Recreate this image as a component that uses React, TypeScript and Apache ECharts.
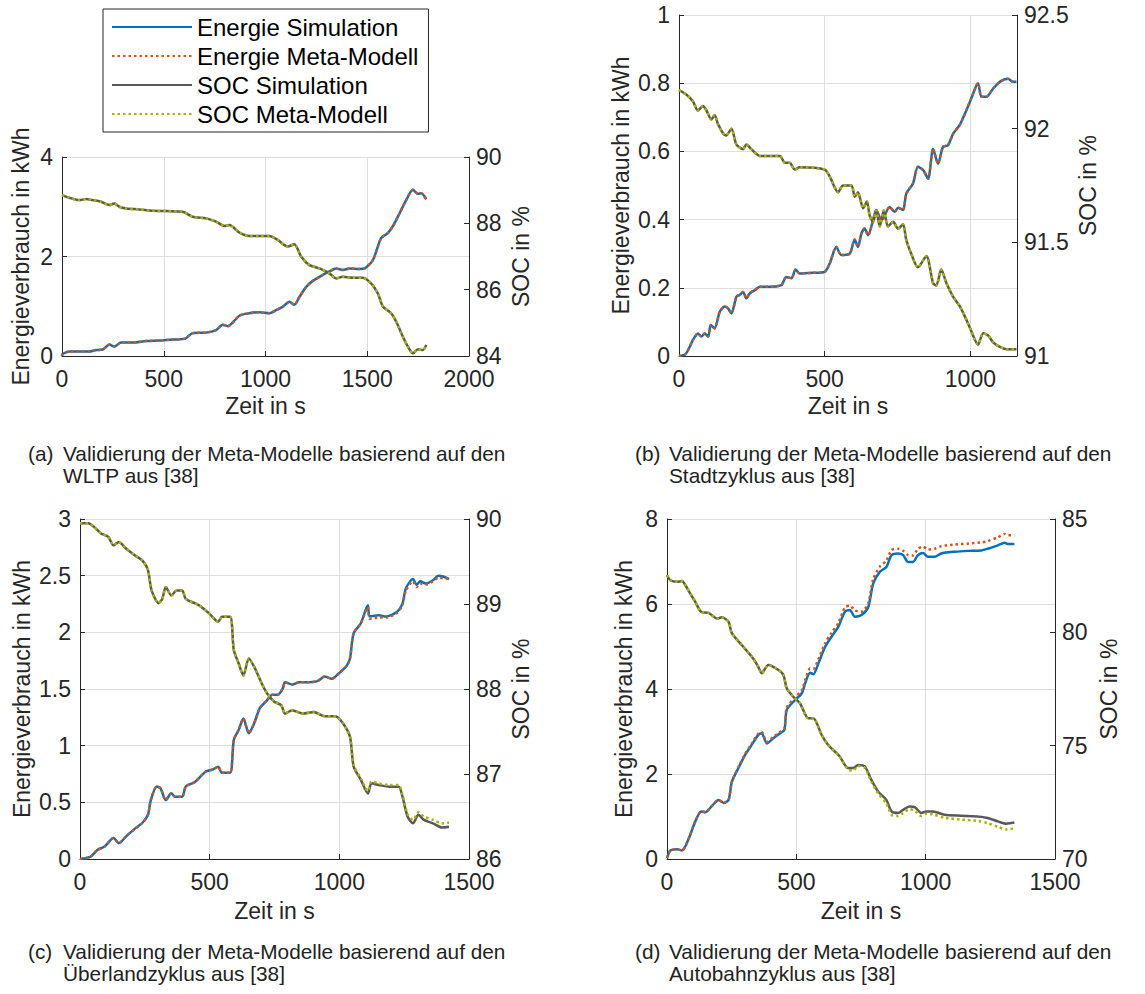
import React, { useEffect, useRef } from 'react';
import * as echarts from 'echarts';

type Pt = [number, number];

const FONT = '"Liberation Sans", Arial, Helvetica, sans-serif';
const TXT = '#262626';
const FS = 23;

const seriesNames = ['Energie Simulation', 'Energie Meta-Modell', 'SOC Simulation', 'SOC Meta-Modell'];
const seriesColors = ['#0072BD', '#D95319', '#595959', '#A9B300'];

const xAxisName = 'Zeit in s';
const leftAxisName = 'Energieverbrauch in kWh';
const rightAxisName = 'SOC in %';

const captionLetters = ['(a)', '(b)', '(c)', '(d)'];
const captionLine1 = 'Validierung der Meta-Modelle basierend auf den';
const captionLine2 = ['WLTP aus [38]', 'Stadtzyklus aus [38]', 'Überlandzyklus aus [38]', 'Autobahnzyklus aus [38]'];

// axis ranges per panel
const xMax = [2000, 1160, 1500, 1500];
const xInterval = [500, 500, 500, 500];
const leftMin = [0, 0, 0, 0];
const leftMax = [4, 1, 3, 8];
const leftInterval = [2, 0.2, 0.5, 2];
const rightMin = [84, 91, 86, 70];
const rightMax = [90, 92.5, 90, 85];
const rightInterval = [2, 0.5, 1, 5];

// ---------- (a) WLTP ----------
const energySimA: Pt[] = [[0,0],[3,0.04],[36,0.09],[85,0.09],[134,0.09],[167,0.12],[200,0.13],[233,0.23],[257,0.19],[290,0.27],[347,0.27],[413,0.30],[479,0.31],[544,0.33],[606,0.35],[642,0.46],[708,0.47],[757,0.52],[790,0.63],[815,0.60],[872,0.81],[921,0.86],[970,0.88],[1019,0.86],[1052,0.92],[1085,0.99],[1118,1.09],[1142,1.03],[1167,1.19],[1200,1.39],[1233,1.51],[1282,1.63],[1314,1.70],[1347,1.76],[1380,1.73],[1413,1.76],[1462,1.75],[1487,1.76],[1528,1.93],[1568,2.37],[1601,2.47],[1626,2.61],[1659,2.87],[1692,3.14],[1724,3.34],[1749,3.26],[1766,3.27],[1790,3.15]];
const energyMetaA: Pt[] = [[0,0],[3,0.04],[36,0.09],[85,0.09],[134,0.09],[167,0.12],[200,0.13],[233,0.23],[257,0.19],[290,0.27],[347,0.27],[413,0.30],[479,0.31],[544,0.33],[606,0.35],[642,0.46],[708,0.47],[757,0.52],[790,0.63],[815,0.60],[872,0.81],[921,0.86],[970,0.88],[1019,0.86],[1052,0.92],[1085,0.99],[1118,1.09],[1142,1.03],[1167,1.19],[1200,1.39],[1233,1.51],[1282,1.63],[1314,1.70],[1347,1.76],[1380,1.73],[1413,1.76],[1462,1.75],[1487,1.76],[1528,1.93],[1568,2.37],[1601,2.47],[1626,2.61],[1659,2.87],[1692,3.14],[1724,3.34],[1749,3.26],[1766,3.27],[1790,3.15]];
const socSimA: Pt[] = [[0,88.85],[36,88.77],[85,88.70],[118,88.73],[151,88.70],[192,88.65],[233,88.55],[257,88.60],[282,88.50],[315,88.45],[380,88.42],[446,88.38],[511,88.37],[593,88.35],[642,88.20],[708,88.15],[757,88.05],[798,87.92],[823,87.95],[872,87.72],[921,87.62],[970,87.62],[1019,87.62],[1060,87.50],[1109,87.30],[1142,87.37],[1175,87.00],[1216,86.74],[1265,86.64],[1314,86.49],[1347,86.34],[1380,86.39],[1429,86.36],[1478,86.36],[1519,86.19],[1552,85.89],[1577,85.49],[1617,85.29],[1642,85.04],[1675,84.58],[1700,84.28],[1724,84.08],[1749,84.20],[1773,84.18],[1790,84.33]];
const socMetaA: Pt[] = [[0,88.85],[36,88.77],[85,88.70],[118,88.73],[151,88.70],[192,88.65],[233,88.55],[257,88.60],[282,88.50],[315,88.45],[380,88.42],[446,88.38],[511,88.37],[593,88.35],[642,88.20],[708,88.15],[757,88.05],[798,87.92],[823,87.95],[872,87.72],[921,87.62],[970,87.62],[1019,87.62],[1060,87.50],[1109,87.30],[1142,87.37],[1175,87.00],[1216,86.74],[1265,86.64],[1314,86.49],[1347,86.34],[1380,86.39],[1429,86.36],[1478,86.36],[1519,86.19],[1552,85.89],[1577,85.49],[1617,85.29],[1642,85.04],[1675,84.58],[1700,84.28],[1724,84.08],[1749,84.20],[1773,84.18],[1790,84.33]];

// ---------- (b) Stadtzyklus ----------
const energySimB: Pt[] = [[0,0],[23,0.006],[48,0.047],[65,0.066],[77,0.057],[88,0.066],[100,0.057],[109,0.091],[122,0.081],[140,0.13],[157,0.145],[168,0.14],[180,0.125],[197,0.174],[208,0.179],[220,0.188],[231,0.169],[243,0.184],[260,0.193],[277,0.203],[300,0.203],[351,0.208],[368,0.232],[386,0.228],[400,0.254],[414,0.242],[460,0.244],[500,0.247],[517,0.271],[540,0.32],[557,0.296],[586,0.30],[603,0.342],[614,0.32],[626,0.359],[637,0.374],[649,0.354],[666,0.398],[677,0.428],[695,0.398],[723,0.437],[740,0.423],[752,0.435],[769,0.428],[780,0.476],[803,0.506],[820,0.555],[838,0.545],[855,0.52],[872,0.608],[889,0.564],[906,0.613],[923,0.618],[941,0.652],[963,0.677],[986,0.72],[1003,0.755],[1026,0.80],[1038,0.76],[1055,0.76],[1078,0.784],[1101,0.804],[1129,0.813],[1146,0.804],[1158,0.804]];
const energyMetaB: Pt[] = [[0,0],[23,0.006],[48,0.047],[65,0.066],[77,0.057],[88,0.066],[100,0.057],[109,0.091],[122,0.081],[140,0.13],[157,0.145],[168,0.14],[180,0.125],[197,0.174],[208,0.179],[220,0.188],[231,0.169],[243,0.184],[260,0.193],[277,0.203],[300,0.203],[351,0.208],[368,0.232],[386,0.228],[400,0.254],[414,0.242],[460,0.244],[500,0.247],[517,0.271],[540,0.32],[557,0.296],[586,0.30],[603,0.342],[614,0.32],[626,0.359],[637,0.374],[649,0.354],[666,0.398],[677,0.428],[695,0.398],[723,0.437],[740,0.423],[752,0.435],[769,0.428],[780,0.476],[803,0.506],[820,0.555],[838,0.545],[855,0.52],[872,0.608],[889,0.564],[906,0.613],[923,0.618],[941,0.652],[963,0.677],[986,0.72],[1003,0.755],[1026,0.80],[1038,0.76],[1055,0.76],[1078,0.784],[1101,0.804],[1129,0.813],[1146,0.804],[1158,0.804]];
const socSimB: Pt[] = [[0,92.17],[25,92.15],[48,92.12],[65,92.08],[82,92.10],[94,92.08],[111,92.04],[122,92.06],[134,92.02],[151,91.98],[162,91.97],[180,92.00],[197,91.93],[220,91.91],[231,91.93],[248,91.91],[277,91.88],[346,91.88],[363,91.85],[380,91.85],[397,91.82],[414,91.83],[500,91.82],[517,91.79],[546,91.72],[563,91.75],[592,91.75],[603,91.70],[614,91.72],[632,91.65],[645,91.68],[654,91.62],[666,91.59],[677,91.64],[689,91.57],[703,91.64],[717,91.57],[735,91.59],[752,91.56],[769,91.58],[780,91.51],[797,91.45],[820,91.39],[849,91.44],[872,91.32],[883,91.31],[900,91.38],[918,91.32],[941,91.26],[963,91.22],[986,91.16],[1003,91.11],[1026,91.05],[1044,91.10],[1061,91.09],[1078,91.06],[1101,91.04],[1124,91.03],[1141,91.03],[1158,91.03]];
const socMetaB: Pt[] = [[0,92.17],[25,92.15],[48,92.12],[65,92.08],[82,92.10],[94,92.08],[111,92.04],[122,92.06],[134,92.02],[151,91.98],[162,91.97],[180,92.00],[197,91.93],[220,91.91],[231,91.93],[248,91.91],[277,91.88],[346,91.88],[363,91.85],[380,91.85],[397,91.82],[414,91.83],[500,91.82],[517,91.79],[546,91.72],[563,91.75],[592,91.75],[603,91.70],[614,91.72],[632,91.65],[645,91.68],[654,91.62],[666,91.59],[677,91.64],[689,91.57],[703,91.64],[717,91.57],[735,91.59],[752,91.56],[769,91.58],[780,91.51],[797,91.45],[820,91.39],[849,91.44],[872,91.32],[883,91.31],[900,91.38],[918,91.32],[941,91.26],[963,91.22],[986,91.16],[1003,91.11],[1026,91.05],[1044,91.10],[1061,91.09],[1078,91.06],[1101,91.04],[1124,91.03],[1141,91.03],[1158,91.03]];

// ---------- (c) Überlandzyklus ----------
const energySimC: Pt[] = [[0,0],[39,0.018],[67,0.08],[95,0.11],[129,0.185],[150,0.14],[178,0.20],[213,0.27],[241,0.32],[262,0.39],[273,0.52],[296,0.64],[310,0.625],[331,0.52],[352,0.58],[366,0.55],[394,0.55],[408,0.64],[443,0.68],[484,0.77],[512,0.79],[533,0.815],[547,0.76],[579,0.76],[593,1.05],[612,1.14],[630,1.24],[651,1.11],[672,1.20],[693,1.33],[721,1.40],[742,1.45],[763,1.45],[783,1.51],[790,1.56],[818,1.54],[846,1.56],[874,1.56],[916,1.57],[943,1.61],[971,1.59],[999,1.64],[1027,1.70],[1041,1.77],[1055,1.99],[1083,2.08],[1110,2.24],[1117,2.14],[1152,2.15],[1180,2.14],[1222,2.18],[1243,2.25],[1257,2.39],[1284,2.47],[1298,2.42],[1312,2.45],[1333,2.43],[1361,2.46],[1382,2.50],[1403,2.49],[1423,2.47]];
const energyMetaC: Pt[] = [[0,0],[39,0.018],[67,0.08],[95,0.11],[129,0.185],[150,0.14],[178,0.20],[213,0.27],[241,0.32],[262,0.39],[273,0.52],[296,0.64],[310,0.625],[331,0.52],[352,0.58],[366,0.55],[394,0.55],[408,0.64],[443,0.68],[484,0.77],[512,0.79],[533,0.815],[547,0.76],[579,0.76],[593,1.05],[612,1.14],[630,1.24],[651,1.11],[672,1.20],[693,1.33],[721,1.40],[742,1.45],[763,1.45],[783,1.51],[790,1.56],[818,1.54],[846,1.56],[874,1.56],[916,1.57],[943,1.61],[971,1.59],[999,1.64],[1027,1.70],[1041,1.77],[1055,1.99],[1083,2.08],[1110,2.22],[1117,2.12],[1152,2.13],[1180,2.13],[1222,2.17],[1243,2.24],[1257,2.37],[1284,2.45],[1298,2.40],[1312,2.43],[1333,2.42],[1361,2.45],[1382,2.48],[1403,2.48],[1423,2.47]];
const socSimC: Pt[] = [[0,89.95],[32,89.95],[53,89.91],[81,89.83],[109,89.79],[129,89.69],[150,89.73],[178,89.65],[213,89.57],[241,89.51],[262,89.40],[276,89.16],[303,89.01],[317,89.06],[331,89.20],[352,89.10],[373,89.16],[394,89.16],[408,89.06],[456,88.99],[498,88.89],[533,88.79],[547,88.85],[579,88.85],[593,88.46],[612,88.30],[630,88.16],[651,88.36],[672,88.26],[700,88.07],[721,87.95],[749,87.85],[776,87.81],[790,87.71],[818,87.75],[860,87.71],[902,87.73],[943,87.68],[985,87.68],[1013,87.60],[1041,87.44],[1055,87.09],[1083,86.93],[1110,86.77],[1124,86.89],[1152,86.87],[1194,86.85],[1229,86.85],[1243,86.74],[1263,86.50],[1284,86.42],[1305,86.52],[1326,86.46],[1361,86.42],[1396,86.37],[1423,86.38]];
const socMetaC: Pt[] = [[0,89.95],[32,89.95],[53,89.91],[81,89.83],[109,89.79],[129,89.69],[150,89.73],[178,89.65],[213,89.57],[241,89.51],[262,89.40],[276,89.16],[303,89.01],[317,89.06],[331,89.20],[352,89.10],[373,89.16],[394,89.16],[408,89.06],[456,88.99],[498,88.89],[533,88.79],[547,88.85],[579,88.85],[593,88.46],[612,88.30],[630,88.16],[651,88.36],[672,88.26],[700,88.07],[721,87.95],[749,87.85],[776,87.81],[790,87.71],[818,87.75],[860,87.71],[902,87.73],[943,87.68],[985,87.68],[1013,87.60],[1041,87.44],[1055,87.10],[1083,86.95],[1110,86.80],[1124,86.91],[1152,86.89],[1194,86.87],[1229,86.87],[1243,86.76],[1263,86.53],[1284,86.46],[1305,86.55],[1326,86.50],[1361,86.46],[1396,86.42],[1423,86.43]];

// ---------- (d) Autobahnzyklus ----------
const energySimD: Pt[] = [[0,0.02],[13,0.20],[39,0.23],[58,0.20],[71,0.30],[90,0.57],[109,0.88],[132,1.12],[148,1.10],[174,1.25],[199,1.39],[219,1.32],[238,1.39],[251,1.82],[276,2.14],[302,2.45],[328,2.69],[353,2.92],[366,2.96],[386,2.72],[411,2.84],[437,2.96],[454,3.04],[463,3.51],[495,3.74],[521,3.90],[536,4.17],[553,4.38],[566,4.35],[585,4.60],[611,4.99],[636,5.23],[662,5.46],[688,5.82],[707,5.86],[726,5.70],[752,5.74],[778,5.93],[797,6.48],[823,6.76],[848,6.87],[868,7.15],[893,7.19],[913,7.15],[932,6.99],[951,6.99],[970,7.15],[990,7.20],[1009,7.11],[1035,7.11],[1060,7.19],[1112,7.23],[1163,7.25],[1215,7.26],[1240,7.30],[1279,7.38],[1305,7.44],[1317,7.41],[1343,7.41]];
const energyMetaD: Pt[] = [[0,0.02],[13,0.20],[39,0.23],[58,0.20],[71,0.30],[90,0.57],[109,0.88],[132,1.12],[148,1.10],[174,1.25],[199,1.39],[219,1.32],[238,1.39],[251,1.82],[276,2.16],[302,2.47],[328,2.72],[353,2.95],[366,2.99],[386,2.75],[411,2.87],[437,2.99],[454,3.08],[463,3.56],[495,3.80],[521,3.97],[536,4.24],[553,4.48],[566,4.47],[585,4.70],[611,5.07],[636,5.32],[662,5.55],[688,5.92],[707,5.96],[726,5.85],[752,5.82],[778,6.02],[797,6.58],[823,6.88],[848,7.02],[868,7.27],[893,7.30],[913,7.25],[932,7.15],[951,7.14],[970,7.30],[990,7.35],[1009,7.28],[1035,7.30],[1060,7.36],[1112,7.40],[1163,7.42],[1215,7.45],[1240,7.48],[1279,7.57],[1305,7.65],[1317,7.62],[1343,7.62]];
const socSimD: Pt[] = [[0,82.52],[13,82.30],[39,82.23],[58,82.26],[71,82.08],[90,81.71],[109,81.35],[132,80.90],[161,80.86],[193,80.61],[212,80.66],[238,80.46],[251,79.95],[289,79.44],[328,78.92],[353,78.48],[366,78.19],[392,78.56],[431,78.34],[450,78.12],[463,77.53],[488,77.16],[514,76.87],[546,76.21],[566,76.21],[598,75.47],[623,75.03],[649,74.74],[668,74.52],[700,74.01],[720,74.01],[739,74.15],[765,74.08],[790,73.49],[816,72.98],[848,72.61],[868,72.10],[893,72.03],[913,72.17],[938,72.32],[958,72.29],[983,72.03],[1003,72.10],[1028,72.10],[1073,71.95],[1137,71.91],[1202,71.88],[1240,71.81],[1279,71.66],[1311,71.56],[1343,71.61]];
const socMetaD: Pt[] = [[0,82.52],[13,82.30],[39,82.23],[58,82.26],[71,82.08],[90,81.71],[109,81.35],[132,80.90],[161,80.86],[193,80.61],[212,80.66],[238,80.46],[251,79.95],[289,79.44],[328,78.92],[353,78.48],[366,78.19],[392,78.56],[431,78.34],[450,78.12],[463,77.53],[488,77.16],[514,76.87],[546,76.21],[566,76.21],[598,75.47],[623,75.03],[649,74.74],[668,74.52],[700,73.95],[720,73.90],[739,74.10],[765,74.02],[790,73.40],[816,72.90],[848,72.45],[868,71.95],[893,71.90],[913,72.02],[938,72.20],[958,72.12],[983,71.90],[1003,72.00],[1028,71.97],[1073,71.82],[1137,71.74],[1202,71.68],[1240,71.58],[1279,71.42],[1311,71.30],[1343,71.35]];

const panelData: Pt[][][] = [
  [energySimA, energyMetaA, socSimA, socMetaA],
  [energySimB, energyMetaB, socSimB, socMetaB],
  [energySimC, energyMetaC, socSimC, socMetaC],
  [energySimD, energyMetaD, socSimD, socMetaD],
];

// layout (pixels)
const grids = [
  { left: 62, top: 157, width: 407, height: 199 },
  { left: 679, top: 15, width: 338, height: 341 },
  { left: 80, top: 519, width: 389, height: 340 },
  { left: 667, top: 519, width: 388, height: 340 },
];
const xNameGap = [38, 38, 40, 40];
const leftNameGap = [30, 47, 47, 32];
const rightNameGap = [40, 59, 40, 42];
const captionPos = [
  { lx: 28, tx: 63, y: 455 },
  { lx: 635, tx: 669, y: 455 },
  { lx: 28, tx: 63, y: 953 },
  { lx: 635, tx: 669, y: 953 },
];

export default function App() {
  const ref = useRef<HTMLDivElement>(null);
  useEffect(() => {
    if (!ref.current) return;
    const chart = echarts.init(ref.current, null, { renderer: 'svg' });

    const axisCommon = {
      axisLine: { show: true, lineStyle: { color: TXT, width: 1 } },
      axisTick: { show: true, inside: true, length: 5, lineStyle: { color: TXT } },
      nameTextStyle: { fontSize: FS, color: TXT, fontFamily: FONT },
      nameLocation: 'middle',
    };

    const xAxes: any[] = [];
    const yAxes: any[] = [];
    const series: any[] = [];

    grids.forEach((g, i) => {
      xAxes.push({
        ...axisCommon,
        type: 'value',
        gridIndex: i,
        min: 0,
        max: xMax[i],
        interval: xInterval[i],
        name: xAxisName,
        nameGap: xNameGap[i],
        axisLabel: {
          color: TXT, fontSize: FS, fontFamily: FONT, margin: 11,
          showMaxLabel: xMax[i] % xInterval[i] === 0,
          formatter: (v: number) => (v % xInterval[i] === 0 ? String(v) : ''),
        },
        splitLine: { show: true, lineStyle: { color: '#dedede', width: 1 } },
      });
      yAxes.push({
        ...axisCommon,
        type: 'value',
        gridIndex: i,
        position: 'left',
        min: leftMin[i],
        max: leftMax[i],
        interval: leftInterval[i],
        name: leftAxisName,
        nameGap: leftNameGap[i],
        axisLabel: { color: TXT, fontSize: FS, fontFamily: FONT, margin: 9 },
        splitLine: { show: true, lineStyle: { color: '#dedede', width: 1 } },
      });
      yAxes.push({
        ...axisCommon,
        type: 'value',
        gridIndex: i,
        position: 'right',
        min: rightMin[i],
        max: rightMax[i],
        interval: rightInterval[i],
        name: rightAxisName,
        nameGap: rightNameGap[i],
        axisLabel: { color: TXT, fontSize: FS, fontFamily: FONT, margin: 7 },
        splitLine: { show: false },
      });
      panelData[i].forEach((data, k) => {
        const dotted = k === 1 || k === 3;
        series.push({
          name: seriesNames[k],
          type: 'line',
          xAxisIndex: i,
          yAxisIndex: k < 2 ? 2 * i : 2 * i + 1,
          data,
          symbol: 'none',
          showSymbol: false,
          smooth: 0.25,
          silent: true,
          z: 2 + k,
          itemStyle: { color: seriesColors[k] },
          lineStyle: {
            color: seriesColors[k],
            width: 2.5,
            type: dotted ? [2.5, 3] : 'solid',
          },
          emphasis: { disabled: true },
        });
      });
    });

    const graphics: any[] = [];
    captionPos.forEach((c, i) => {
      const style = { fill: '#222', font: `20.8px ${FONT}`, textVerticalAlign: 'middle' };
      graphics.push({ type: 'text', left: c.lx, top: c.y - 12, style: { ...style, text: captionLetters[i] } });
      graphics.push({ type: 'text', left: c.tx, top: c.y - 12, style: { ...style, text: captionLine1 } });
      graphics.push({ type: 'text', left: c.tx, top: c.y + 10, style: { ...style, text: captionLine2[i] } });
    });

    chart.setOption({
      animation: false,
      backgroundColor: '#ffffff',
      grid: grids.map((g) => ({ ...g, containLabel: false })),
      xAxis: xAxes,
      yAxis: yAxes,
      series,
      legend: {
        data: seriesNames,
        orient: 'vertical',
        left: 103,
        top: 9,
        itemWidth: 80,
        itemHeight: 12,
        itemGap: 5,
        padding: [6, 10, 6, 8],
        borderColor: TXT,
        borderWidth: 1,
        backgroundColor: '#ffffff',
        selectedMode: false,
        itemStyle: { color: 'rgba(0,0,0,0)', borderColor: 'rgba(0,0,0,0)', borderWidth: 0, opacity: 0 },
        textStyle: { fontSize: 24, color: '#000', fontFamily: FONT, lineHeight: 24 },
      },
      graphic: graphics,
    });
    return () => chart.dispose();
  }, []);
  return (
    <div
      ref={ref}
      style={{ position: 'absolute', left: 0, top: 0, width: 1145, height: 994, background: '#fff' }}
    />
  );
}
